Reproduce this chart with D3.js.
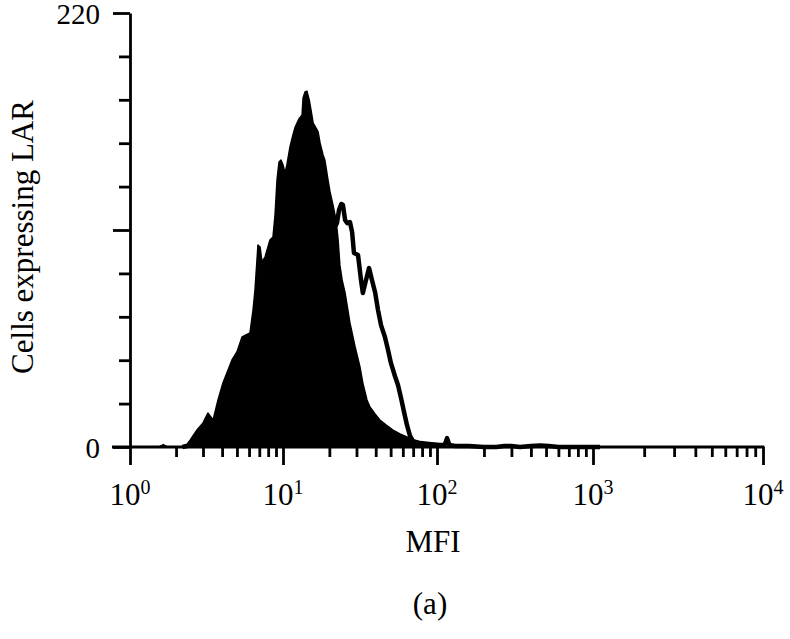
<!DOCTYPE html>
<html>
<head>
<meta charset="utf-8">
<script src="https://cdn.jsdelivr.net/npm/d3@7"></script>
<style>
  body { margin: 0; background: #fff; }
  svg { display: block; }
</style>
</head>
<body>
<svg width="790" height="639"></svg>
<script>
// filled histogram (control), MFI channel vs cell count
var filledMfi = [1.55, 1.65, 1.75, 2.29, 2.47, 2.74, 3.00, 3.23, 3.49, 3.76, 4.05, 4.64, 5.00, 5.40, 6.08, 6.37,
  6.56, 6.76, 6.86, 7.08, 7.29, 7.63, 8.22, 8.60, 8.87, 9.14, 9.42, 9.70, 10.0, 10.3, 10.6, 11.1, 11.6, 12.0,
  12.7, 13.3, 13.5, 13.9, 14.3, 14.8, 15.2, 15.7, 16.4, 16.9, 17.4, 18.2, 18.7, 19.6, 20.2, 21.1, 22.1, 22.8,
  23.4, 24.2, 25.3, 27.2, 29.4, 31.6, 33.0, 35.1, 36.7, 39.6, 42.6, 46.6, 51.8, 57.5, 63.8, 70.9, 77.6, 86.1,
  94.2, 100];
var filledCount = [0, 1.2, 0, 0, 3.5, 8.6, 12.2, 17.2, 13.7, 23.8, 32.4, 44.1, 48.2, 55.8, 57.8, 69.4,
  79.6, 94.8, 102.4, 101.4, 93.8, 96.3, 104.9, 106.4, 117.6, 135.3, 144.5, 145.5, 143, 138.9, 143, 152.1, 158.2, 162.2,
  166.3, 168.3, 176.9, 180, 180.4, 175.9, 170.8, 164.2, 161.7, 159.7, 154.1, 148, 145.5, 135.3, 129.3, 122.7, 115.1, 104.9,
  92.3, 84.7, 78.1, 62.9, 50.7, 40.6, 32.4, 23.8, 20.3, 16.7, 13.7, 11.2, 8.6, 6.6, 5.1, 3.5, 2.5, 1.5,
  0.5, 0];

// open histogram (LAR), drawn as outline
var openMfi = [2.2, 2.87, 4.50, 7.08, 10, 12.9, 17.4, 21.1, 22.4, 23.1, 23.9, 24.5, 25.3, 26.1, 27.2, 28.1,
  28.9, 30.7, 32.1, 33.0, 34.6, 36.2, 37.8, 39.6, 41.4, 43.3, 45.9, 48.1, 50.2, 53.3, 55.8, 58.4, 61.1, 63.8,
  66.8, 69.8, 77.6, 88.7, 104.5, 112, 116, 120, 131, 160, 200, 240, 270, 300, 340, 400, 460, 520, 600, 1100];
var openCount = [0, 2, 10, 30, 55, 75, 95, 110, 113.5, 120.1, 123.2, 122.7, 115.1, 113.5, 114.0, 109.0,
  98.3, 97.3, 84.7, 78.1, 84.7, 90.7, 84.7, 78.6, 69.4, 61.8, 55.8, 49.2, 42.6, 36.0, 31.4, 24.8, 17.7, 11.2,
  5.6, 3.0, 2.0, 1.5, 1, 1, 4.5, 1, 0.5, 0.5, 0, 0, 0.5, 0.5, 0, 0.5, 0.8, 0.5, 0, 0];

var yTicks = [0, 22, 44, 66, 88, 110, 132, 154, 176, 198, 220];
var yMajor = [0, 110, 220];
var yLabels = [0, 220];
var xDecades = [0, 1, 2, 3, 4];

var serif = "Liberation Serif";
var svg = d3.select("svg");

// the scanned axis is not perfectly even, so the decades are mapped piecewise
var x = d3.scaleLog()
    .domain([1, 10, 100, 1000, 10000])
    .range([130, 283, 437, 593, 763]);
var y = d3.scaleLinear()
    .domain([0, 220])
    .range([447, 13]);

var filled = filledMfi.map(function(m, i) { return {m: m, c: filledCount[i]}; });
var open = openMfi.map(function(m, i) { return {m: m, c: openCount[i]}; });

// outline first, filled on top
svg.append("path")
    .datum(open)
    .attr("fill", "none")
    .attr("stroke", "#000")
    .attr("stroke-width", 4.5)
    .attr("stroke-linejoin", "round")
    .attr("d", d3.line()
      .x(function(d) { return x(d.m); })
      .y(function(d) { return y(d.c); }));

svg.append("path")
    .datum(filled)
    .attr("fill", "#000")
    .attr("stroke", "#000")
    .attr("stroke-width", 1.5)
    .attr("stroke-linejoin", "round")
    .attr("d", d3.area()
      .x(function(d) { return x(d.m); })
      .y0(y(0))
      .y1(function(d) { return y(d.c); }));

// y axis
var yAxis = svg.append("g")
    .attr("transform", "translate(" + x(1) + ",0)")
    .call(d3.axisLeft(y).tickValues(yTicks).tickSize(11).tickSizeOuter(0).tickFormat(""));
yAxis.select(".domain").attr("stroke-width", 2.8);
yAxis.selectAll(".tick line")
    .attr("stroke-width", 2.8)
    .attr("x2", function(d) { return yMajor.indexOf(d) >= 0 ? -17 : -11; });

yAxis.selectAll(".ylab")
    .data(yLabels)
    .enter().append("text")
    .attr("class", "ylab")
    .attr("x", -30)
    .attr("y", function(d) { return y(d) + 10.5; })
    .attr("text-anchor", "end")
    .attr("font-family", serif)
    .attr("font-size", 29)
    .attr("fill", "#000")
    .text(function(d) { return d; });

// x axis
var xTickVals = [];
xDecades.forEach(function(k) {
  if (k < 4) d3.range(1, 10).forEach(function(j) { xTickVals.push(j * Math.pow(10, k)); });
  else xTickVals.push(Math.pow(10, k));
});
var xAxis = svg.append("g")
    .attr("transform", "translate(0," + y(0) + ")")
    .call(d3.axisBottom(x).tickValues(xTickVals).tickSize(10).tickSizeOuter(0).tickFormat(""));
xAxis.select(".domain").remove();
xAxis.selectAll(".tick line")
    .attr("stroke-width", 2.8)
    .attr("y2", function(d) { return xDecades.indexOf(Math.round(Math.log10(d) * 1000) / 1000) >= 0 ? 18 : 10; });
xAxis.append("line")
    .attr("x1", x(1) - 18)
    .attr("x2", x(10000) + 1.4)
    .attr("stroke", "#000")
    .attr("stroke-width", 2.8);

var xl = xAxis.selectAll(".xlab")
    .data(xDecades)
    .enter().append("text")
    .attr("class", "xlab")
    .attr("x", function(k) { return x(Math.pow(10, k)); })
    .attr("y", 58)
    .attr("text-anchor", "middle")
    .attr("font-family", serif)
    .attr("font-size", 31)
    .attr("fill", "#000");
xl.append("tspan").text("10");
xl.append("tspan")
    .attr("dy", -11)
    .attr("font-size", 20)
    .text(function(k) { return k; });

// titles
svg.append("text")
    .attr("x", 433)
    .attr("y", 552)
    .attr("text-anchor", "middle")
    .attr("font-family", serif)
    .attr("font-size", 31)
    .text("MFI");

svg.append("text")
    .attr("transform", "translate(33,237) rotate(-90)")
    .attr("text-anchor", "middle")
    .attr("font-family", serif)
    .attr("font-size", 31)
    .text("Cells expressing LAR");

svg.append("text")
    .attr("x", 430)
    .attr("y", 614)
    .attr("text-anchor", "middle")
    .attr("font-family", serif)
    .attr("font-size", 31)
    .text("(a)");
</script>
</body>
</html>
